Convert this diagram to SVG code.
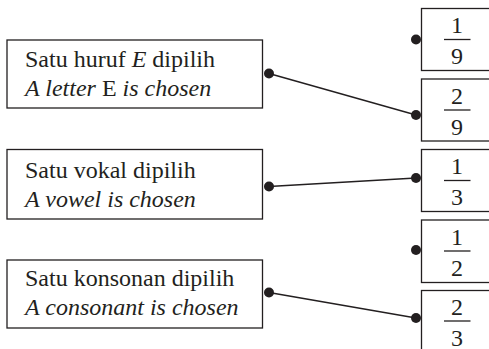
<svg xmlns="http://www.w3.org/2000/svg" width="489" height="349" viewBox="0 0 489 349">
<style>
.box{fill:#fff;stroke:#231f20;stroke-width:1.3}
.t{font-family:"Liberation Serif","Times New Roman",serif;font-size:24px;fill:#231f20}
.i{font-style:italic}
.n{text-anchor:middle}
.bar{stroke:#231f20;stroke-width:1.3}
.dot{fill:#231f20}
.ln{stroke:#231f20;stroke-width:1.4;fill:none}
</style>
<rect width="489" height="349" fill="#fff"/>
<g id="connectors">
<line class="ln" x1="269" y1="73.5" x2="416" y2="115"/>
<line class="ln" x1="269" y1="186.5" x2="416" y2="178"/>
<line class="ln" x1="269" y1="292.5" x2="416" y2="318"/>
</g>
<g id="n-e">
<rect class="box" x="7" y="40" width="255.5" height="68"/>
<text class="t" x="25" y="67">Satu huruf <tspan class="i">E</tspan> dipilih</text>
<text class="t" x="25" y="96"><tspan class="i">A letter</tspan> E <tspan class="i">is chosen</tspan></text>
<circle class="dot" cx="269" cy="73.5" r="5"/>
</g>
<g id="n-vowel">
<rect class="box" x="7" y="149.5" width="255.5" height="69.5"/>
<text class="t" x="25" y="177.5">Satu vokal dipilih</text>
<text class="t i" x="25" y="206.5">A vowel is chosen</text>
<circle class="dot" cx="269" cy="186.5" r="5"/>
</g>
<g id="n-consonant">
<rect class="box" x="7" y="260" width="255.5" height="68"/>
<text class="t" x="25" y="286">Satu konsonan dipilih</text>
<text class="t i" x="25" y="315">A consonant is chosen</text>
<circle class="dot" cx="269" cy="292.5" r="5"/>
</g>
<g id="f1">
<rect class="box" x="421.5" y="8.5" width="80" height="62"/>
<text class="t n" x="457" y="33">1</text>
<line class="bar" x1="444" y1="39.5" x2="470.5" y2="39.5"/>
<text class="t n" x="457" y="63.5">9</text>
<circle class="dot" cx="416" cy="39.5" r="5"/>
</g>
<g id="f2">
<rect class="box" x="421.5" y="79" width="80" height="62"/>
<text class="t n" x="457" y="103.5">2</text>
<line class="bar" x1="444" y1="110" x2="470.5" y2="110"/>
<text class="t n" x="457" y="134.5">9</text>
<circle class="dot" cx="416" cy="115" r="5"/>
</g>
<g id="f3">
<rect class="box" x="421.5" y="149.5" width="80" height="62"/>
<text class="t n" x="457" y="174">1</text>
<line class="bar" x1="444" y1="180.5" x2="470.5" y2="180.5"/>
<text class="t n" x="457" y="205">3</text>
<circle class="dot" cx="416" cy="178" r="5"/>
</g>
<g id="f4">
<rect class="box" x="421.5" y="220" width="80" height="62.5"/>
<text class="t n" x="457" y="244.5">1</text>
<line class="bar" x1="444" y1="251" x2="470.5" y2="251"/>
<text class="t n" x="457" y="275.5">2</text>
<circle class="dot" cx="416" cy="250" r="5"/>
</g>
<g id="f5">
<rect class="box" x="421.5" y="290.5" width="80" height="62"/>
<text class="t n" x="457" y="314.5">2</text>
<line class="bar" x1="444" y1="321" x2="470.5" y2="321"/>
<text class="t n" x="457" y="345.5">3</text>
<circle class="dot" cx="416" cy="318" r="5"/>
</g>
</svg>
